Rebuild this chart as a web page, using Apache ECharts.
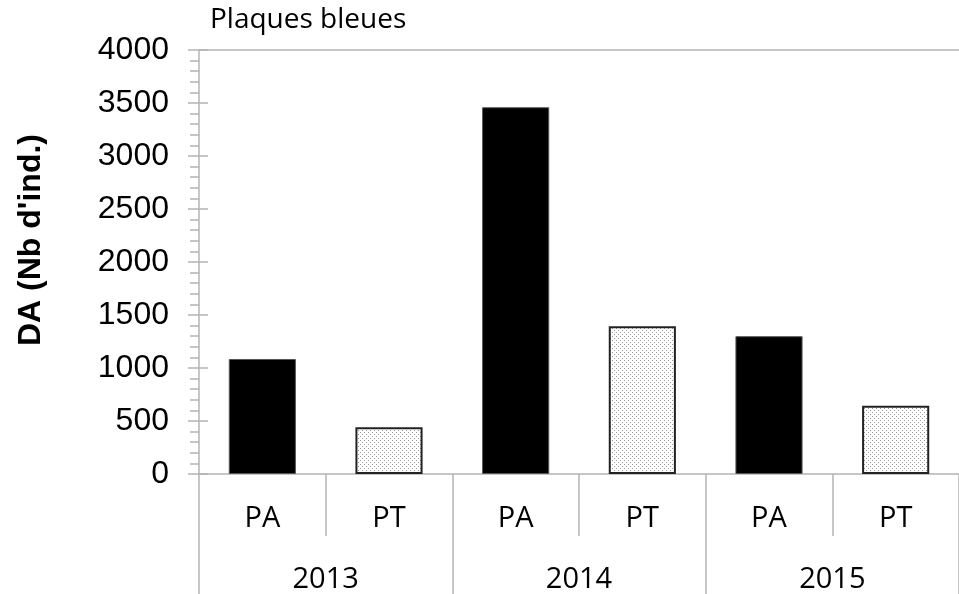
<!DOCTYPE html>
<html>
<head>
<meta charset="utf-8">
<script src="https://cdn.jsdelivr.net/npm/echarts@6/dist/echarts.min.js"></script>
<style>
  html, body { margin: 0; padding: 0; background: #fff; }
  #chart { width: 959px; height: 594px; }
</style>
</head>
<body>
<div id="chart"></div>
<script>
// données
const categories = ["PA", "PT", "PA", "PT", "PA", "PT"];
const years = ["2013", "2014", "2015"];
const values = [1085, 440, 3460, 1395, 1300, 645];
const yTicks = [0, 500, 1000, 1500, 2000, 2500, 3000, 3500, 4000];

const axisGray = "#b4b4b4";

// motif pointillé pour les barres PT
function makeDots() {
  const c = document.createElement("canvas");
  c.width = 4;
  c.height = 4;
  const ctx = c.getContext("2d");
  ctx.fillStyle = "#ffffff";
  ctx.fillRect(0, 0, 4, 4);
  ctx.fillStyle = "#9a9a9a";
  ctx.fillRect(0, 0, 1, 1);
  ctx.fillRect(2, 2, 1, 1);
  return c;
}
const dots = { image: makeDots(), repeat: "repeat" };

const myChart = echarts.init(document.getElementById("chart"), null, { renderer: "canvas" });

const option = {
  animation: false,
  grid: { left: 199, top: 50, width: 768, height: 426, containLabel: false },
  xAxis: [
    {
      type: "category",
      data: categories,
      position: "bottom",
      axisLine: { show: true, lineStyle: { color: axisGray, width: 1.5 } },
      axisTick: { show: true, interval: 0, length: 62, lineStyle: { color: axisGray, width: 1.5 } },
      axisLabel: {
        interval: 0, margin: 30, color: "#000",
        fontFamily: "Open Sans", fontSize: 29,
      },
    },
    {
      type: "category",
      data: years,
      position: "bottom",
      axisLine: { show: false },
      axisTick: { show: true, interval: 0, length: 130, lineStyle: { color: axisGray, width: 1.5 } },
      axisLabel: {
        interval: 0, margin: 91, color: "#000",
        fontFamily: "Open Sans", fontSize: 29,
      },
    },
  ],
  yAxis: [
    {
      type: "value",
      min: yTicks[0],
      max: yTicks[yTicks.length - 1],
      interval: 500,
      axisLine: { show: true, lineStyle: { color: axisGray, width: 1.5 } },
      axisTick: { show: true, length: 11, lineStyle: { color: axisGray, width: 1.5 } },
      minorTick: { show: true, splitNumber: 5, length: 9, lineStyle: { color: axisGray, width: 1.5 } },
      axisLabel: {
        margin: 30, color: "#000",
        fontFamily: "Liberation Sans", fontSize: 32,
        formatter: (v) => String(v),
      },
      splitLine: { show: false },
    },
    {
      // petits traits de graduation à l'intérieur
      type: "value",
      min: yTicks[0],
      max: yTicks[yTicks.length - 1],
      interval: 500,
      position: "left",
      axisLine: { show: false },
      axisTick: { show: true, inside: true, length: 9, lineStyle: { color: axisGray, width: 1.5 } },
      axisLabel: { show: false },
      splitLine: { show: false },
    },
  ],
  graphic: [
    {
      type: "text",
      left: 210,
      top: 6,
      style: { text: "Plaques bleues", fill: "#000", font: "28px 'Open Sans'" },
    },
    {
      type: "text",
      x: 31,
      y: 240,
      rotation: Math.PI / 2,
      style: {
        text: "DA (Nb d'ind.)",
        fill: "#000",
        font: "bold 32px 'Liberation Sans'",
        align: "center",
        verticalAlign: "middle",
      },
    },
  ],
  series: [
    {
      type: "bar",
      xAxisIndex: 0,
      yAxisIndex: 0,
      barWidth: "53%",
      data: values.map((v, i) => ({
        value: v,
        itemStyle: categories[i] === "PA"
          ? { color: "#000", borderColor: "#555", borderWidth: 1 }
          : { color: dots, borderColor: "#222", borderWidth: 2 },
      })),
      markLine: {
        silent: true,
        symbol: "none",
        label: { show: false },
        lineStyle: { color: axisGray, type: "solid", width: 1.5 },
        data: [{ yAxis: yTicks[yTicks.length - 1] }],
      },
    },
  ],
};

myChart.setOption(option);
</script>
</body>
</html>
